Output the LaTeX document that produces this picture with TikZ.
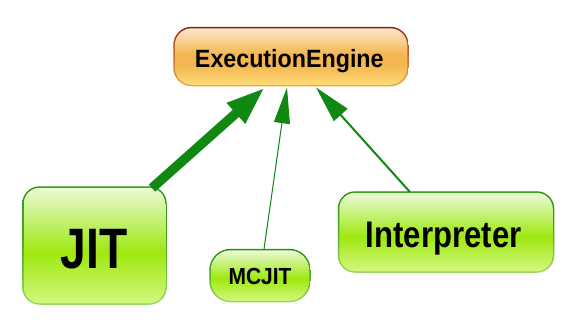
\documentclass[tikz,border=0pt]{standalone}
\usepackage{fontspec}
\setmainfont{Liberation Sans}
\usetikzlibrary{arrows.meta,calc}
\definecolor{arr}{HTML}{118811}
\definecolor{eeTop}{HTML}{FCE6CC}
\definecolor{eeMid}{HTML}{F3B650}
\definecolor{eeBot}{HTML}{FEDD78}
\definecolor{eeLineT}{HTML}{8E1A0A}
\definecolor{eeLineB}{HTML}{E8A848}
\definecolor{gTop}{HTML}{EAFAD6}
\definecolor{gMid}{HTML}{9EE810}
\definecolor{gBot}{HTML}{D4F77E}
\definecolor{gLineT}{HTML}{2A9010}
\definecolor{gLineB}{HTML}{9AD860}
\pgfdeclareverticalshading{eeshade}{100bp}{color(0bp)=(eeBot); color(25bp)=(eeBot); color(42bp)=(eeMid); color(52bp)=(eeMid); color(75bp)=(eeTop); color(100bp)=(eeTop)}
\pgfdeclareverticalshading{eeframe}{100bp}{color(0bp)=(eeLineB); color(25bp)=(eeLineB); color(60bp)=(eeLineT!60!eeLineB); color(75bp)=(eeLineT); color(100bp)=(eeLineT)}
\pgfdeclareverticalshading{gshade}{100bp}{color(0bp)=(gBot); color(25bp)=(gBot); color(47bp)=(gMid); color(75bp)=(gTop); color(100bp)=(gTop)}
\pgfdeclareverticalshading{gframe}{100bp}{color(0bp)=(gLineB); color(25bp)=(gLineB); color(55bp)=(gLineT!80!gLineB); color(75bp)=(gLineT); color(100bp)=(gLineT)}
\tikzset{
  eebox/.style={rectangle, rounded corners=17pt, shading=eeshade, inner sep=0pt},
  eefr/.style={rectangle, rounded corners=18.5pt, shading=eeframe, inner sep=0pt},
  gbox/.style={rectangle, rounded corners=16pt, shading=gshade, inner sep=0pt},
  gfr/.style={rectangle, rounded corners=17.5pt, shading=gframe, inner sep=0pt},
  lbl/.style={anchor=base, inner sep=0pt, font=\bfseries},
  inh/.style={draw=arr, fill=arr}
}
\begin{document}
\begin{tikzpicture}[x=1pt,y=-1pt]
\useasboundingbox (0,0) rectangle (579,327);
\node[eefr, minimum width=235.5pt, minimum height=59.5pt] (eef) at (291,56.5) {};
\node[eebox, minimum width=232.5pt, minimum height=56.5pt] (ee) at (291,56.5) {};
\node[gfr, minimum width=144.5pt, minimum height=118.5pt] (jitf) at (94.5,245.5) {};
\node[gbox, minimum width=141.5pt, minimum height=115.5pt] (jit) at (94.5,245.5) {};
\node[gfr, rounded corners=21.5pt, minimum width=101.5pt, minimum height=53.5pt] (mcjitf) at (260,275.5) {};
\node[gbox, rounded corners=20pt, minimum width=98.5pt, minimum height=50.5pt] (mcjit) at (260,275.5) {};
\node[gfr, minimum width=216.5pt, minimum height=81.5pt] (interpf) at (446,232) {};
\node[gbox, minimum width=213.5pt, minimum height=78.5pt] (interp) at (446,232) {};
\node[lbl] (eet) at (289.3,67.3) {\fontsize{25}{25}\selectfont\scalebox{0.93}[1]{ExecutionEngine}};
\node[lbl] (jitt) at (94.2,268.3) {\fontsize{57}{57}\selectfont\scalebox{0.81}[1]{JIT}};
\node[lbl] (mct) at (260,284.7) {\fontsize{23.3}{23.3}\selectfont\scalebox{0.9}[1]{MCJIT}};
\node[lbl] (intt) at (443.7,247.3) {\fontsize{37}{37}\selectfont\scalebox{0.84}[1]{Interpreter}};
\draw[inh, line width=9.5pt, -{Triangle[length=39pt, width=25pt]}] ($(jitf.north)+(57.5,2)$) -- ($(eef.south)+(-26,1)$);
\draw[inh, line width=1pt, -{Triangle[length=36pt, width=16pt]}] ($(mcjitf.north)+(4,0.5)$) -- ($(eef.south)+(-4,1)$);
\draw[inh, line width=2pt, -{Triangle[length=37pt, width=18pt]}] ($(interpf.north)+(-36,1)$) -- ($(eef.south)+(25,1)$);
\end{tikzpicture}
\end{document}
